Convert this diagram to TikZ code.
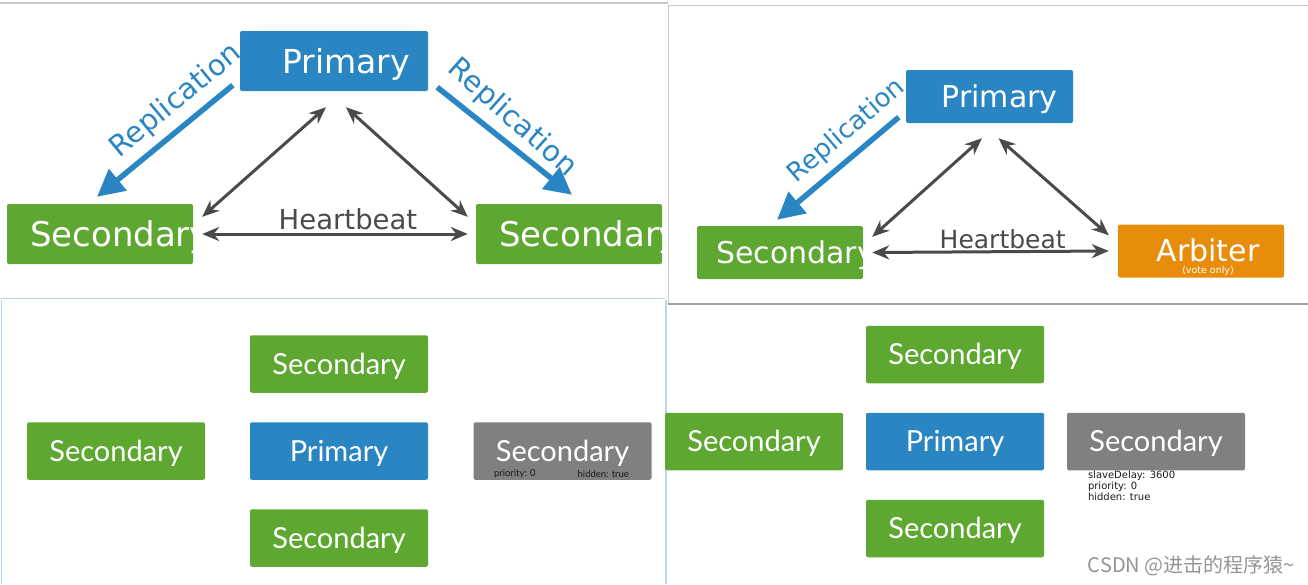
\documentclass[tikz,border=0pt]{standalone}
\usepackage{fontspec}
\setmainfont{DejaVu Sans}
\newfontfamily\gillfont{Lato}
\newfontfamily\cjkfont{Noto Sans CJK SC}
\usetikzlibrary{arrows.meta}
\definecolor{MongoBlue}{HTML}{2A86C2}
\definecolor{MongoGreen}{HTML}{5EA832}
\definecolor{MongoOrange}{HTML}{E88C0C}
\definecolor{MongoGray}{HTML}{808080}
\definecolor{BeatGray}{HTML}{4A4A4A}
\definecolor{FrameBlue}{HTML}{B8D6F5}
\definecolor{FrameGray}{HTML}{C8C8C8}
\newcommand{\setfs}[1]{\fontsize{#1}{#1}\selectfont}

\begin{document}
\begin{tikzpicture}[x=1pt, y=-1pt,
    box/.style={rectangle, inner sep=0pt, rounded corners=2pt, text=white},
    txt/.style={inner sep=0pt, text=white},
    three/.style={box, minimum width=178pt, minimum height=57.5pt, font=\gillfont\setfs{29}, text height=20.8pt, text depth=0pt},
    repl/.style={-{Triangle[length=27pt, width=27pt]}, line width=5.5pt, draw=MongoBlue},
    beat/.style={{Stealth[length=17pt, width=14pt]}-{Stealth[length=17pt, width=14pt]}, line width=3pt, draw=BeatGray},
    small/.style={inner sep=0pt, text=black!90}]
\useasboundingbox (0,0) rectangle (1308,584);

\draw[FrameGray, line width=1.5pt] (0,3) -- (668,3);
\draw[FrameGray] (668,5) -- (1308,5);
\draw[FrameGray] (668,5) -- (668,304);
\draw[FrameGray!80!black, line width=2pt] (668,304) -- (1308,304);
\draw[FrameBlue] (0,298) -- (665,298);
\draw[FrameBlue] (1,300) -- (1,584);
\draw[FrameBlue, line width=2pt] (666,300) -- (666,584);

\node[box, fill=MongoBlue, minimum width=188pt, minimum height=60pt, font=\setfs{33}, text height=24pt, text depth=0pt] (onePri) at (334,61) {\hspace*{24pt}Primary};
\node[box, fill=MongoGreen, minimum width=186pt, minimum height=60pt] (oneSecL) at (100,234) {};
\node[box, fill=MongoGreen, minimum width=186pt, minimum height=60pt] (oneSecR) at (569,234) {};
\begin{scope}
  \clip (oneSecL.south west) rectangle (oneSecL.north east);
  \node[txt, anchor=west, font=\setfs{34}, text height=24.8pt, text depth=0pt] (oneSecLtext) at ([xshift=23pt]oneSecL.west) {Secondary};
\end{scope}
\begin{scope}
  \clip (oneSecR.south west) rectangle (oneSecR.north east);
  \node[txt, anchor=west, font=\setfs{34}, text height=24.8pt, text depth=0pt] (oneSecRtext) at ([xshift=23pt]oneSecR.west) {Secondary};
\end{scope}

\draw[repl] ([xshift=-7pt, yshift=6pt]onePri.south west) -- ([xshift=-3pt, yshift=7pt]oneSecL.north);
\draw[repl] ([xshift=9pt, yshift=4pt]onePri.south east) -- ([xshift=3pt, yshift=9pt]oneSecR.north);
\draw[beat] ([xshift=-8pt, yshift=-16pt]onePri.south) -- ([xshift=9pt, yshift=-13pt]oneSecL.north east);
\draw[beat] ([xshift=12pt, yshift=-16pt]onePri.south) -- ([xshift=-8pt, yshift=-13pt]oneSecR.north west);
\draw[beat] ([xshift=9pt]oneSecL.east) -- ([xshift=-8pt]oneSecR.west);
\node[font=\setfs{29}, text=MongoBlue, rotate=39.5] (oneRepL) at (176,101) {Replication};
\node[font=\setfs{29}, text=MongoBlue, rotate=-41.5] (oneRepR) at (512,118) {Replication};
\node[font=\setfs{27.5}, text=BeatGray] (oneBeat) at (348,219) {Heartbeat};

\node[box, fill=MongoBlue, minimum width=167pt, minimum height=53pt, font=\setfs{30}, text height=21.9pt, text depth=0pt] (twoPri) at (989.5,96.5) {\hspace*{20pt}Primary};
\node[box, fill=MongoGreen, minimum width=166pt, minimum height=53pt] (twoSec) at (780,252.5) {};
\node[box, fill=MongoOrange, minimum width=166pt, minimum height=53pt, font=\setfs{30}, text height=21.9pt, text depth=0pt] (twoArb) at (1201,251) {\hspace*{14pt}Arbiter};
\node[txt, font=\setfs{9.5}] (twoVote) at ([xshift=7pt, yshift=-20pt]twoArb.center) {(vote only)};
\begin{scope}
  \clip (twoSec.south west) rectangle (twoSec.north east);
  \node[txt, anchor=west, font=\setfs{30}, text height=21.9pt, text depth=0pt] (twoSectext) at ([xshift=19pt]twoSec.west) {Secondary};
\end{scope}

\draw[repl] ([xshift=-7pt, yshift=6pt]twoPri.south west) -- ([xshift=-3pt, yshift=6pt]twoSec.north);
\draw[beat] ([xshift=-7.5pt, yshift=-15pt]twoPri.south) -- ([xshift=9pt, yshift=-11pt]twoSec.north east);
\draw[beat] ([xshift=9pt, yshift=-15pt]twoPri.south) -- ([xshift=-9pt, yshift=-11pt]twoArb.north west);
\draw[beat] ([xshift=9pt]twoSec.east) -- ([xshift=-9pt]twoArb.west);
\node[font=\setfs{26}, text=MongoBlue, rotate=40.3] (twoRep) at (847,131) {Replication};
\node[font=\setfs{25}, text=BeatGray] (twoBeat) at (1002.7,239) {Heartbeat};

\node[three, fill=MongoGreen] (threeTop) at (339,364) {Secondary};
\node[three, fill=MongoGreen] (threeLeft) at (116,451) {Secondary};
\node[three, fill=MongoBlue] (threePri) at (339,451) {Primary};
\node[three, fill=MongoGray] (threeHid) at (562.5,451) {Secondary};
\node[three, fill=MongoGreen] (threeBot) at (339,538) {Secondary};
\node[small, anchor=west, font=\gillfont\setfs{9.5}] (threePrio) at ([xshift=20.5pt, yshift=6pt]threeHid.south west) {priority: 0};
\node[small, anchor=east, font=\gillfont\setfs{9.5}] (threeHidden) at ([xshift=-22.5pt, yshift=6pt]threeHid.south east) {hidden: true};

\node[three, fill=MongoGreen] (fourTop) at (955,354.5) {Secondary};
\node[three, fill=MongoGreen] (fourLeft) at (754,441.5) {Secondary};
\node[three, fill=MongoBlue] (fourPri) at (955,441.5) {Primary};
\node[three, fill=MongoGray] (fourHid) at (1156,441.5) {Secondary};
\node[three, fill=MongoGreen] (fourBot) at (955,528.5) {Secondary};
\node[small, anchor=north west, align=left, font=\fontsize{10}{9}\selectfont] (fourOpts) at ([xshift=21pt, yshift=-0.5pt]fourHid.south west) {slaveDelay: 3600\\priority: 0\\hidden: true};

\node[font=\cjkfont\setfs{20}, text=black!42, anchor=east, inner sep=0pt] (csdn) at (1295,566) {CSDN @进击的程序猿\textasciitilde};
\end{tikzpicture}
\end{document}
